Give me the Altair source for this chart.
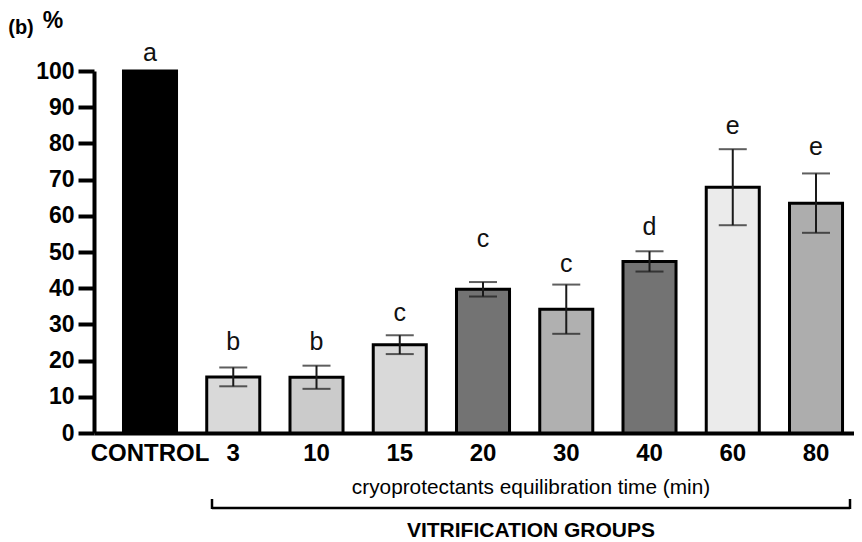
import altair as alt
import pandas as pd

groups = ["CONTROL", "3", "10", "15", "20", "30", "40", "60", "80"]
means = [100, 15.5, 15.4, 24.4, 39.7, 34.2, 47.4, 67.9, 63.5]
errors = [0, 2.6, 3.2, 2.6, 2.0, 6.8, 2.8, 10.5, 8.2]
letters = ["a", "b", "b", "c", "c", "c", "d", "e", "e"]
letter_y = [105, 25.2, 25.1, 33.1, 53.6, 46.7, 56.9, 84.8, 79.0]
colors = ["#000000", "#d9d9d9", "#cbcbcb", "#d9d9d9", "#737373",
          "#b0b0b0", "#737373", "#ebebeb", "#adadad"]
y_ticks = list(range(0, 101, 10))

df = pd.DataFrame({
    "group": groups, "mean": means, "err": errors,
    "letter": letters, "ly": letter_y,
})
df["lo"] = df["mean"] - df["err"]
df["hi"] = df["mean"] + df["err"]

FONT = "Liberation Sans"
W, H = 760, 362

x_scale = alt.Scale(paddingInner=0.363, paddingOuter=0.246, align=0.72)
y_scale = alt.Scale(domain=[0, 100], nice=False)

x_axis = alt.Axis(labelAngle=0, ticks=False, labelFontSize=24, labelPadding=8,
                  domainWidth=4, labelOverlap=False, grid=False,
                  labelFont=FONT, labelFontWeight="bold", labelColor="black",
                  domainColor="black")
y_axis = alt.Axis(values=y_ticks, grid=False, labelFontSize=23, labelPadding=4,
                  tickSize=16, tickWidth=4, domainWidth=4, labelOverlap=False,
                  labelFont=FONT, labelFontWeight="bold", labelColor="black",
                  domainColor="black", tickColor="black")


def X():
    return alt.X("group:N", sort=groups, title=None, scale=x_scale, axis=x_axis)


def Y(field):
    return alt.Y(field, scale=y_scale, title=None, axis=y_axis)


bars = alt.Chart(df).mark_bar(stroke="black", strokeWidth=3).encode(
    x=X(), y=Y("mean:Q"),
    fill=alt.Fill("group:N", scale=alt.Scale(domain=groups, range=colors),
                  legend=None),
)

err_base = alt.Chart(df).transform_filter("datum.err > 0")
err_line = err_base.mark_rule(color="#1a1a1a", strokeWidth=2).encode(
    x=X(), y=Y("lo:Q"), y2="hi:Q"
)
cap_hi = err_base.mark_tick(color="#1a1a1a", thickness=2, size=28).encode(
    x=X(), y=Y("hi:Q")
)
cap_lo = err_base.mark_tick(color="#1a1a1a", thickness=2, size=28).encode(
    x=X(), y=Y("lo:Q")
)

letter_marks = alt.Chart(df).mark_text(
    font=FONT, fontSize=25, color="#111111", baseline="middle"
).encode(
    x=X(), y=Y("ly:Q"), text="letter:N"
)


def label(text, x, y, size, weight="normal", align="center"):
    return alt.Chart(pd.DataFrame({"t": [text]})).mark_text(
        font=FONT, fontSize=size, fontWeight=weight, color="black",
        align=align, baseline="middle"
    ).encode(x=alt.value(x), y=alt.value(y), text="t:N")


panel = label("(b)", -73, -43, 20, "bold")
pct = label("%", -41, -50, 23, "bold")
sub = label("cryoprotectants equilibration time (min)", 437, 417, 20.8)
vit = label("VITRIFICATION GROUPS", 437, 460, 21, "bold")

one = pd.DataFrame({"k": [0]})
br_h = alt.Chart(one).mark_rule(color="black", strokeWidth=2.5).encode(
    x=alt.value(118), x2=alt.value(756), y=alt.value(437))
br_l = alt.Chart(one).mark_rule(color="black", strokeWidth=2.5).encode(
    x=alt.value(118), y=alt.value(428), y2=alt.value(438))
br_r = alt.Chart(one).mark_rule(color="black", strokeWidth=2.5).encode(
    x=alt.value(756), y=alt.value(428), y2=alt.value(438))

chart = alt.layer(
    bars, err_line, cap_hi, cap_lo, letter_marks,
    panel, pct, sub, vit, br_h, br_l, br_r
).properties(
    width=W, height=H,
    background="white",
    autosize=alt.AutoSizeParams(type="none"),
    padding={"left": 86, "top": 63, "right": 0, "bottom": 109},
).configure_view(stroke=None)

chart.save("out.html", embed_options={"renderer": "svg", "actions": False})
